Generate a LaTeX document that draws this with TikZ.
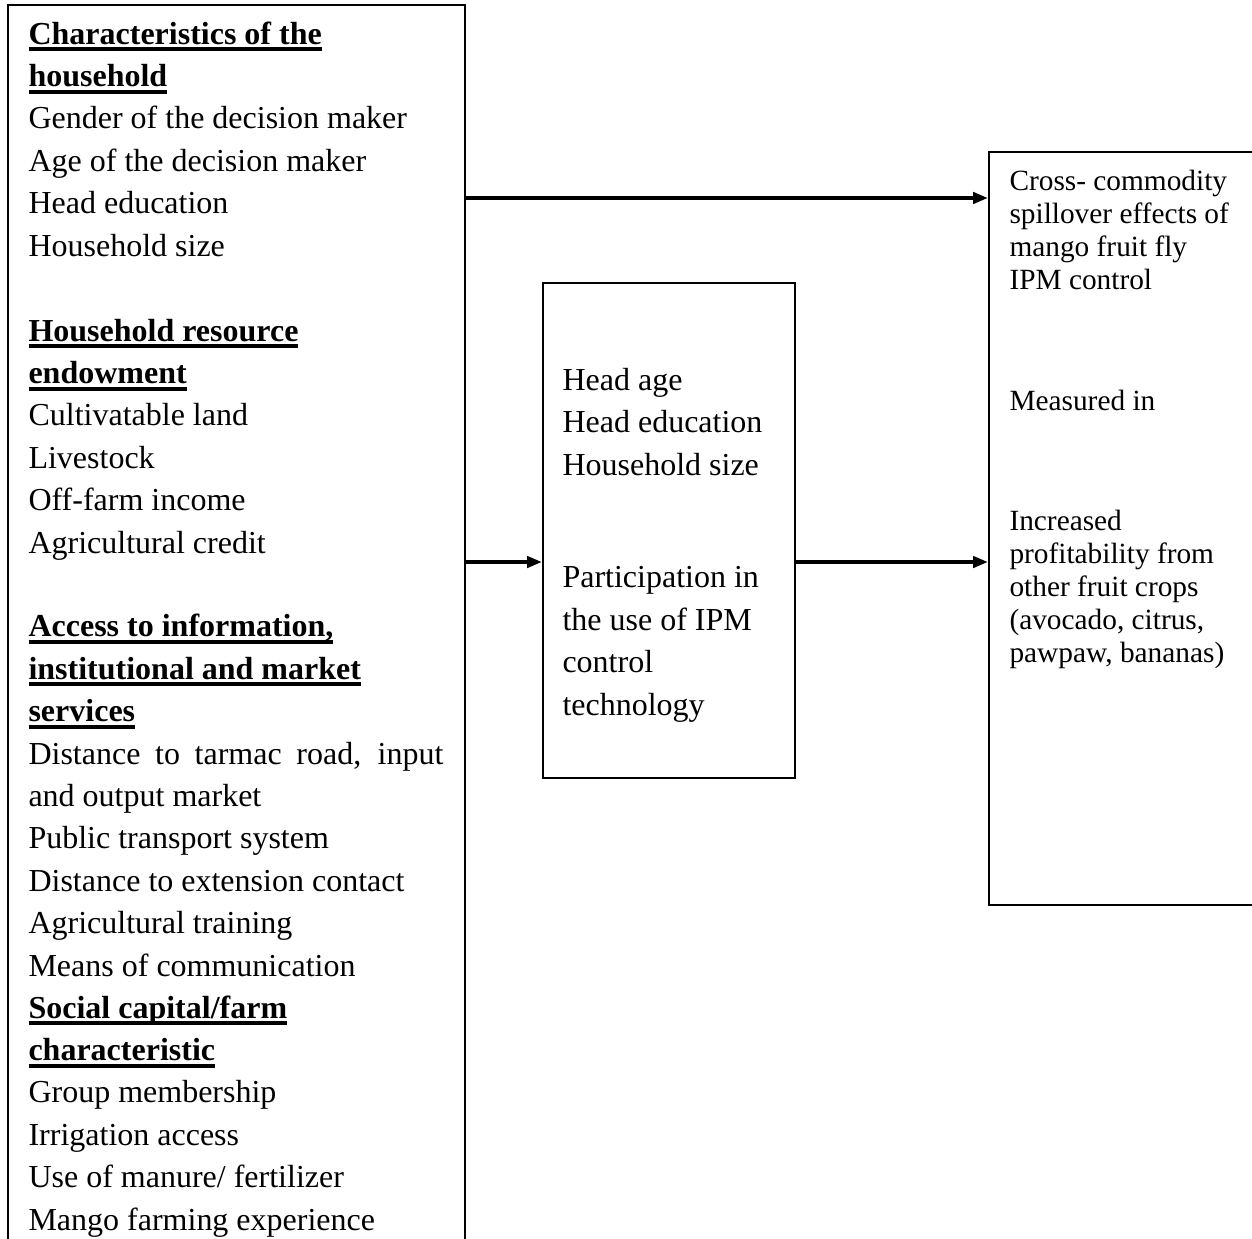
\documentclass[tikz,border=0pt]{standalone}
\usepackage{fontspec}
\setmainfont{Liberation Serif}
\usetikzlibrary{arrows.meta}
\newsavebox{\hdbox}
\newcommand{\hd}[1]{\sbox{\hdbox}{\textbf{#1}}\usebox{\hdbox}\llap{\rule[-2.7pt]{\wd\hdbox}{1.5pt}}}
\tikzset{
x=0.375pt, y=-0.375pt, % one unit is one pixel of the figure
>={Triangle[length=5.6pt,width=4.2pt]}, % solid arrow heads
box/.style={draw, line width=0.7pt, inner sep=0pt, anchor=north west}, % the frames
txt/.style={anchor=base west, align=left, inner sep=0pt, font=\fontsize{12}{15.9}\selectfont}, % text in the frames, placed by its last line
small/.style={txt, font=\fontsize{11}{12.3}\selectfont}, % text in the right frame
link/.style={->, line width=1.4pt}, % the connectors
}

\begin{document}
\begin{tikzpicture}
    \useasboundingbox (0,0) rectangle (1252,1239);
    \node[box, minimum width=171.4pt, minimum height=490pt] (drivers) at (7,4) {};
    \node[box, minimum width=94.5pt, minimum height=185.6pt] (ipm) at (542,282) {};
    \node[box, minimum width=120pt, minimum height=282.4pt] (spill) at (988,151) {};

    \node[txt] (house) at (28,256) {\hd{Characteristics of the}\\ \hd{household}\\ Gender of the decision maker\\ Age of the decision maker\\ Head education\\ Household size};
    \node[txt] (endow) at (28,553) {\hd{Household resource}\\ \hd{endowment}\\ Cultivatable land\\ Livestock\\ Off-farm income\\ Agricultural credit};
    \node[txt] (access) at (28,976) {\hd{Access to information,}\\ \hd{institutional and market}\\ \hd{services}\\ \makebox[155.6pt][s]{Distance to tarmac road, input}\\ and output market\\ Public transport system\\ Distance to extension contact\\ Agricultural training\\ Means of communication};
    \node[txt] (social) at (28,1230) {\hd{Social capital/farm}\\ \hd{characteristic}\\ Group membership\\ Irrigation access\\ Use of manure/ fertilizer\\ Mango farming experience};

    \node[txt] (head) at (562,475) {Head age\\ Head education\\ Household size};
    \node[txt] (part) at (562,715) {Participation in\\ the use of IPM\\ control\\ technology};

    \node[small] (cross) at (1009,289) {Cross- commodity\\ spillover effects of\\ mango fruit fly\\ IPM control};
    \node[small] (meas) at (1009,410) {Measured in};
    \node[small] (profit) at (1009,662) {Increased\\ profitability from\\ other fruit crops\\ (avocado, citrus,\\ pawpaw, bananas)};

    \coordinate (top) at (0,198);
    \coordinate (mid) at (0,562);
    \draw[link] (drivers.east |- top) -- (spill.west |- top);
    \draw[link] (drivers.east |- mid) -- (ipm.west |- mid);
    \draw[link] (ipm.east |- mid) -- (spill.west |- mid);
\end{tikzpicture}
\end{document}
